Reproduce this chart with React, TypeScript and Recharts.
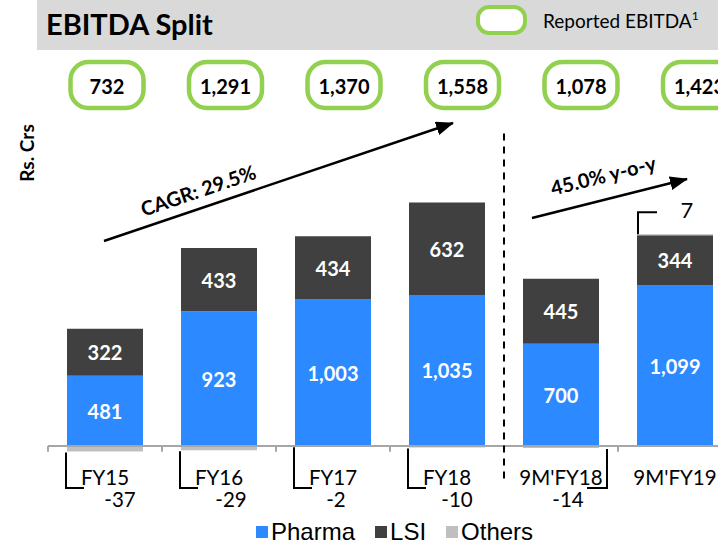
import React from 'react';
import { BarChart, Bar, XAxis, YAxis, ReferenceLine, LabelList, Legend } from 'recharts';

const CATEGORIES = ["FY15", "FY16", "FY17", "FY18", "9M'FY18", "9M'FY19"];
const PHARMA = [481, 923, 1003, 1035, 700, 1099];
const LSI = [322, 433, 434, 632, 445, 344];
const OTHERS = [-37, -29, -2, -10, -14, 7];
const REPORTED_EBITDA = [732, 1291, 1370, 1558, 1078, 1423];
const SERIES_NAMES = ['Pharma', 'LSI', 'Others'];
const BOUNDARIES = [0, 1, 2, 3, 4, 5, 6];
const PERIOD_DIVIDER = 4;
const CAGR_TEXT = 'CAGR: 29.5%';
const YOY_TEXT = '45.0% y-o-y';
const TITLE = 'EBITDA Split';
const UNIT = 'Rs. Crs';

// styling / layout constants
const BLUE = '#2D89FF';
const DARK = '#404040';
const GRAY = '#BFBFBF';
const GREEN = '#92D050';
const AXIS = '#A6A6A6';
const FONT = 'Lato, "Open Sans", sans-serif';
const LEGEND_FONT = '"Liberation Sans", Arial, sans-serif';
const OTHERS_DX = [15, 12, 3, 10, 7, 12];
const OTHERS_RIGHT_BRACKET = [false, false, false, false, true, false];

const data = CATEGORIES.map((name, i) => ({
  name,
  pos: i + 0.5,
  pharma: PHARMA[i],
  lsi: LSI[i],
  others: OTHERS[i],
}));

const fmt = (v: number) => Number(v).toLocaleString('en-US');

const CenterLabel = (props: any) => {
  const { x, y, width, height, value } = props;
  const top = Math.min(y, y + height);
  const h = Math.abs(height);
  return (
    <text
      x={x + width / 2}
      y={top + h / 2}
      textAnchor="middle"
      dominantBaseline="central"
      fill="#fff"
      fontFamily={FONT}
      fontWeight={700}
      fontSize={20}
    >
      {fmt(value)}
    </text>
  );
};

const OthersLabel = (props: any) => {
  const { x, y, width, height, value, index } = props;
  const top = Math.min(y, y + height);
  const bottom = Math.max(y, y + height);
  const cx = x + width / 2;
  if (value < 0) {
    const zero = top;
    const lineBottom = zero + 42;
    const right = OTHERS_RIGHT_BRACKET[index];
    const bx = right ? x + width + 8 : x - 1;
    const hx = right ? bx - 20 : bx + 18;
    return (
      <g>
        <polyline
          points={`${bx},${bottom + 1} ${bx},${lineBottom} ${hx},${lineBottom}`}
          fill="none"
          stroke="#000"
          strokeWidth={2}
        />
        <text x={cx + OTHERS_DX[index]} y={zero + 61} textAnchor="middle" fontFamily={FONT} fontSize={20.5} fill="#000">
          {value}
        </text>
      </g>
    );
  }
  const bx = x + 1;
  const ty = top - 22;
  return (
    <g>
      <polyline points={`${bx},${top} ${bx},${ty} ${bx + 19},${ty}`} fill="none" stroke="#000" strokeWidth={2} />
      <text x={cx + 12} y={top - 16} textAnchor="middle" fontFamily={FONT} fontSize={22} fill="#000">
        {value}
      </text>
    </g>
  );
};

const CategoryTick = (props: any) => {
  const { x, y, payload } = props;
  const idx = Math.round(payload.value - 0.5);
  return (
    <text x={x} y={y + 10} textAnchor="middle" fontFamily={FONT} fontSize={20.5} fill="#000">
      {CATEGORIES[idx]}
    </text>
  );
};

const renderLegend = (props: any) => {
  const items = [...(props.payload || [])].sort(
    (a: any, b: any) => SERIES_NAMES.indexOf(a.value) - SERIES_NAMES.indexOf(b.value)
  );
  return (
    <div style={{ display: 'flex', alignItems: 'center', fontFamily: LEGEND_FONT, fontSize: 24, color: '#000', whiteSpace: 'nowrap', lineHeight: '28px' }}>
      {items.map((p: any) => (
        <span key={p.value} style={{ display: 'flex', alignItems: 'center', marginRight: 20 }}>
          <span style={{ display: 'inline-block', width: 12, height: 12, background: p.color, marginRight: 3 }} />
          {p.value}
        </span>
      ))}
    </div>
  );
};

const BADGE_X0 = 107;
const BADGE_STEP = 118.5;

export default function App() {
  return (
    <div style={{ position: 'fixed', left: 0, top: 0, width: 718, height: 546, overflow: 'hidden', background: '#fff' }}>
      <div style={{ position: 'absolute', left: 0, top: 0 }}>
        <BarChart
          width={760}
          height={546}
          data={data}
          stackOffset="sign"
          margin={{ top: 154, right: 28, bottom: 40.8, left: 48 }}
        >
          <XAxis
            type="number"
            dataKey="pos"
            domain={[0, 6]}
            ticks={[0.5, 1.5, 2.5, 3.5, 4.5, 5.5]}
            interval={0}
            axisLine={false}
            tickLine={false}
            tickSize={0}
            tickMargin={0}
            height={30}
            tick={<CategoryTick />}
          />
          <YAxis hide type="number" domain={[-200, 2000]} />
          <Bar dataKey="pharma" name="Pharma" stackId="a" fill={BLUE} barSize={76} isAnimationActive={false}>
            <LabelList dataKey="pharma" content={<CenterLabel />} />
          </Bar>
          <Bar dataKey="lsi" name="LSI" stackId="a" fill={DARK} barSize={76} isAnimationActive={false}>
            <LabelList dataKey="lsi" content={<CenterLabel />} />
          </Bar>
          <Bar dataKey="others" name="Others" stackId="a" fill={GRAY} barSize={76} isAnimationActive={false}>
            <LabelList dataKey="others" content={<OthersLabel />} />
          </Bar>
          <ReferenceLine y={0} stroke={AXIS} strokeWidth={2} ifOverflow="visible" />
          {BOUNDARIES.map((b) => (
            <ReferenceLine
              key={b}
              segment={[{ x: b, y: 0 }, { x: b, y: -40 }]}
              stroke={AXIS}
              strokeWidth={2}
              ifOverflow="visible"
            />
          ))}
          <ReferenceLine
            segment={[{ x: PERIOD_DIVIDER, y: 2140 }, { x: PERIOD_DIVIDER, y: -230 }]}
            stroke="#000"
            strokeWidth={2}
            strokeDasharray="7 6"
            ifOverflow="visible"
          />
          <Legend
            layout="horizontal"
            verticalAlign="middle"
            align="center"
            content={renderLegend}
            wrapperStyle={{ position: 'absolute', left: 256, top: 518, width: 340, height: 28 }}
          />
        </BarChart>
      </div>
      <svg width={718} height={546} style={{ position: 'absolute', left: 0, top: 0, pointerEvents: 'none' }}>
        <defs>
          <marker id="arrowHead" viewBox="0 0 18 14" refX={17} refY={7} markerWidth={18} markerHeight={14} markerUnits="userSpaceOnUse" orient="auto">
            <path d="M0,0 L18,7 L0,14 Z" fill="#000" />
          </marker>
        </defs>
        <rect x={37} y={0} width={681} height={50} fill="#D9D9D9" />
        <text x={46} y={35} fontFamily={FONT} fontWeight={700} fontSize={29} fill="#000">{TITLE}</text>
        <rect x={478} y={7} width={47} height={26} rx={11} ry={11} fill="#fff" stroke={GREEN} strokeWidth={4} />
        <text x={543} y={28} fontFamily={FONT} fontSize={19} fill="#000">
          Reported EBITDA<tspan fontSize={12} dy={-8}>1</tspan>
        </text>
        {REPORTED_EBITDA.map((v, i) => {
          const cx = BADGE_X0 + BADGE_STEP * i;
          return (
            <g key={i}>
              <rect x={cx - 36.5} y={62} width={73} height={46} rx={18} ry={18} fill="#fff" stroke={GREEN} strokeWidth={4.5} />
              <text x={cx} y={86} textAnchor="middle" dominantBaseline="central" fontFamily={FONT} fontWeight={700} fontSize={20} fill="#000">
                {fmt(v)}
              </text>
            </g>
          );
        })}
        <text
          x={26}
          y={153}
          transform="rotate(-90 26 153)"
          textAnchor="middle"
          dominantBaseline="central"
          fontFamily={FONT}
          fontWeight={700}
          fontSize={19}
          fill="#000"
        >
          {UNIT}
        </text>
        <line x1={104} y1={241} x2={453} y2={123} stroke="#000" strokeWidth={2.5} markerEnd="url(#arrowHead)" />
        <text x={198} y={190} transform="rotate(-18.7 198 190)" textAnchor="middle" dominantBaseline="central" fontFamily={FONT} fontWeight={700} fontSize={20} fill="#000">
          {CAGR_TEXT}
        </text>
        <line x1={532} y1={218} x2={687} y2={179} stroke="#000" strokeWidth={2.5} markerEnd="url(#arrowHead)" />
        <text x={603} y={175} transform="rotate(-14 603 175)" textAnchor="middle" dominantBaseline="central" fontFamily={FONT} fontWeight={700} fontSize={20} fill="#000">
          {YOY_TEXT}
        </text>
      </svg>
    </div>
  );
}
